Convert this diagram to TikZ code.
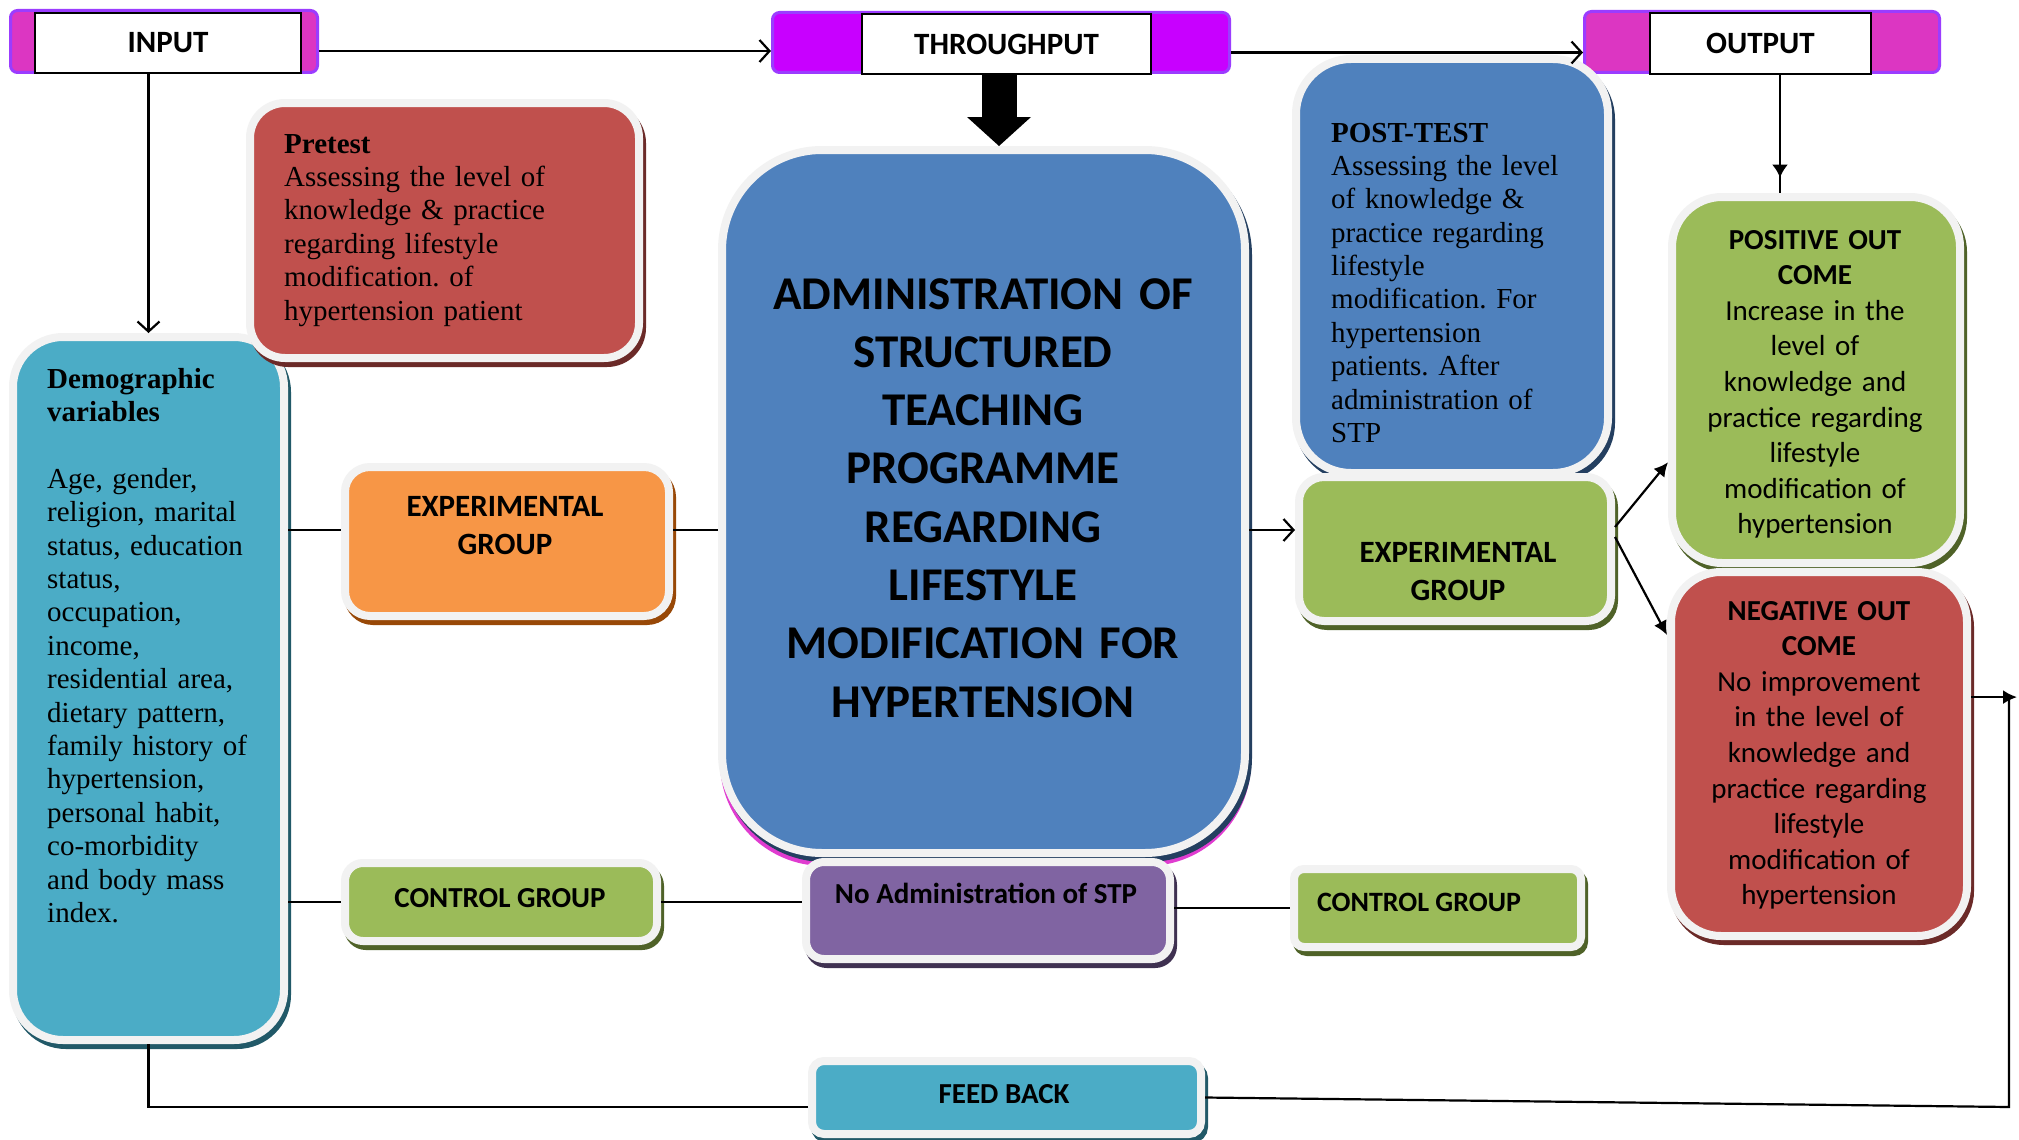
\documentclass[tikz,border=0pt]{standalone}
\usepackage{fontspec}
\setmainfont{Liberation Serif}
\newfontfamily\carlito{Carlito}
\frenchspacing
\usetikzlibrary{arrows.meta,calc,decorations.markings}
\definecolor{bord}{HTML}{F2F2F2}
\definecolor{barpurple}{HTML}{9B3CFF}
\definecolor{barmag}{HTML}{DC36C2}
\definecolor{barviolet}{HTML}{C800FF}
\definecolor{cred}{HTML}{C0504D}
\definecolor{credS}{HTML}{6B2A28}
\definecolor{cteal}{HTML}{4BACC6}
\definecolor{ctealS}{HTML}{215968}
\definecolor{corange}{HTML}{F79646}
\definecolor{corangeS}{HTML}{984807}
\definecolor{cblue}{HTML}{4F81BD}
\definecolor{cblueS}{HTML}{243F60}
\definecolor{cgreen}{HTML}{9BBB59}
\definecolor{cgreenS}{HTML}{4F6228}
\definecolor{cpurple}{HTML}{8064A2}
\definecolor{cpurpleS}{HTML}{3F3151}
\definecolor{cmagS}{HTML}{E03CD0}
\tikzset{
  cbox/.style n args={3}{rectangle, rounded corners=#3, fill=#1, draw=bord, line width=8pt, inner sep=0pt,
     preaction={fill=#2, draw=#2, line width=8pt, transform canvas={xshift=3pt,yshift=-5pt}}},
  bar/.style={rectangle, rounded corners=7pt, draw=barpurple, line width=3pt, inner sep=0pt},
  wbox/.style={rectangle, fill=white, draw=black, line width=1.5pt, inner sep=0pt,
     font=\carlito\bfseries\fontsize{31pt}{38pt}\selectfont},
  conn/.style={draw=black, line width=2.2pt},
  barb/.style={conn, -{Straight Barb[length=10pt,width=22pt]}},
  stip/.style={conn, -{Latex[length=14pt,width=14pt]}},
  blockarrow/.style={draw=black, line width=35pt, -{Triangle[length=29pt,width=64pt,line width=0pt]}},
  ser/.style={font=\fontsize{29pt}{33.4pt}\selectfont, inner sep=0pt, align=left},
  cal/.style={font=\carlito\fontsize{29pt}{35.6pt}\selectfont, inner sep=0pt, align=center},
  lab/.style={font=\carlito\bfseries\fontsize{31pt}{38.3pt}\selectfont, inner sep=0pt, align=center},
  labs/.style={font=\carlito\bfseries\fontsize{29pt}{35pt}\selectfont, inner sep=0pt},
}
\begin{document}
\begin{tikzpicture}[x=1pt,y=-1pt]
\path[use as bounding box, fill=white] (0,0) rectangle (2019,1140);

% header bars
\node[bar, fill=barmag, minimum width=307pt, minimum height=62pt] (inbar) at (164,41.5) {};
\node[wbox, minimum width=266pt, minimum height=60pt] (inbox) at (168,43) {INPUT};
\node[bar, fill=barviolet, minimum width=457pt, minimum height=60pt] (thrbar) at (1001,42.5) {};
\node[wbox, minimum width=289pt, minimum height=60pt] (thrbox) at (1006.5,44) {THROUGHPUT};
\node[bar, fill=barmag, minimum width=355pt, minimum height=61pt] (outbar) at (1762,42) {};
\node[wbox, minimum width=221pt, minimum height=61pt] (outbox) at (1760.5,43.5) {OUTPUT};

% boxes
\node[cbox={cteal}{ctealS}{50pt}, minimum width=271pt, minimum height=703pt] (demo) at (148.5,688.5) {};
\node[cbox={cred}{credS}{35pt}, minimum width=389pt, minimum height=255pt] (pretest) at (444.5,230.5) {};
\node[cbox={corange}{corangeS}{25pt}, minimum width=324pt, minimum height=149pt] (oexp) at (507,541.5) {};
\node[cbox={cgreen}{cgreenS}{18pt}, minimum width=312pt, minimum height=78pt] (lctrl) at (501,902) {};
\node[preaction={fill=cmagS, draw=cmagS, line width=8pt, transform canvas={xshift=2pt,yshift=-9pt}},
      cbox={cblue}{cblueS}{100pt}, minimum width=523pt, minimum height=703pt] (admin) at (983.5,501.5) {};
\node[cbox={cpurple}{cpurpleS}{18pt}, minimum width=364pt, minimum height=97pt] (purple) at (988,910.5) {};
\node[cbox={cgreen}{cgreenS}{10pt}, minimum width=287pt, minimum height=78pt] (rctrl) at (1437.5,908) {};
\node[cbox={cteal}{ctealS}{12pt}, minimum width=389pt, minimum height=73pt] (feed) at (1006.5,1097.5) {};
\node[cbox={cblue}{cblueS}{55pt}, minimum width=312pt, minimum height=414pt] (post) at (1452,266) {};
\node[cbox={cgreen}{cgreenS}{25pt}, minimum width=312pt, minimum height=144pt] (rexp) at (1455,549) {};
\node[cbox={cgreen}{cgreenS}{50pt}, minimum width=288pt, minimum height=366pt] (pos) at (1816,380) {};
\node[cbox={cred}{credS}{50pt}, minimum width=296pt, minimum height=364pt] (neg) at (1819,754) {};

% texts
\node[ser, anchor=base west, text width=340pt] (pretestT) at (284,153)
  {\textbf{Pretest}\\Assessing the level of\\knowledge \& practice\\regarding lifestyle\\modification. of\\hypertension patient};
\node[ser, anchor=base west, text width=234pt] (demoT) at (47,388)
  {\textbf{Demographic}\\\textbf{variables}\\[33.4pt]Age, gender,\\religion, marital\\status, education\\status,\\occupation,\\income,\\residential area,\\dietary pattern,\\family history of\\hypertension,\\personal habit,\\co-morbidity\\and body mass\\index.};
\node[lab, anchor=base, text width=300pt] (oexpT) at (505,516) {EXPERIMENTAL\\GROUP};
\node[labs, anchor=base] (lctrlT) at (500,907) {CONTROL GROUP};
\node[font=\carlito\bfseries\fontsize{47pt}{58.3pt}\selectfont, inner sep=0pt, align=center, text width=510pt, anchor=base] (adminT) at (983,309)
  {ADMINISTRATION OF\\STRUCTURED\\TEACHING\\PROGRAMME\\REGARDING\\LIFESTYLE\\MODIFICATION FOR\\HYPERTENSION};
\node[labs, anchor=base] (purpleT) at (986,903) {No Administration of STP};
\node[labs, font=\carlito\bfseries\fontsize{28pt}{34pt}\selectfont, anchor=base] (rctrlT) at (1419,911) {CONTROL GROUP};
\node[labs, anchor=base] (feedT) at (1004,1103) {FEED BACK};
\node[ser, anchor=base west, text width=265pt] (postT) at (1331,142)
  {\textbf{POST-TEST}\\Assessing the level\\of knowledge \&\\practice regarding\\lifestyle\\modification. For\\hypertension\\patients. After\\administration of\\STP};
\node[lab, anchor=base, text width=300pt] (rexpT) at (1458,562) {EXPERIMENTAL\\GROUP};
\node[cal, anchor=base, text width=280pt] (posT) at (1815,249)
  {\textbf{POSITIVE OUT}\\\textbf{COME}\\Increase in the\\level of\\knowledge and\\practice regarding\\lifestyle\\modification of\\hypertension};
\node[cal, anchor=base, text width=285pt] (negT) at (1819,620)
  {\textbf{NEGATIVE OUT}\\\textbf{COME}\\No improvement\\in the level of\\knowledge and\\practice regarding\\lifestyle\\modification of\\hypertension};

% connectors
\coordinate (l1) at ([yshift=-9.5pt]inbar.east);
\draw[barb] (l1) -- (l1 -| thrbar.west);
\coordinate (l2) at ([yshift=-10pt]thrbar.east);
\draw[barb] (l2) -- (l2 -| outbar.west);
\draw[barb] (inbox.south -| demo.north) -- (demo.north);
\coordinate (ba) at ([xshift=-7.5pt]thrbox.south);
\draw[blockarrow] (ba) -- (ba |- admin.north);
\coordinate (oa) at ([xshift=19.5pt]outbox.south);
\draw[conn, decoration={markings, mark=at position 0.87 with {\arrow{Latex[length=13pt,width=16pt]}}}, postaction={decorate}] (oa) -- (oa |- pos.north);

\coordinate (e1) at ([yshift=11.5pt]oexp.west);
\draw[conn] (demo.east |- e1) -- (e1);
\coordinate (e2) at ([yshift=11.5pt]oexp.east);
\draw[conn] (e2) -- (e2 -| admin.west);
\draw[conn] (demo.east |- lctrl.west) -- (lctrl.west);
\draw[conn] (lctrl.east) -- (lctrl.east -| purple.west);
\draw[conn] (purple.east |- rctrl.west) -- (rctrl.west);
\coordinate (r1) at ([yshift=19pt]rexp.west);
\draw[barb] (r1 -| admin.east) -- (r1);
\draw[stip] ([yshift=22pt]rexp.east) -- ($(pos.south west)!0.28!(pos.north west)$);
\draw[stip] ([yshift=12pt]rexp.east) -- ($(neg.north west)!0.18!(neg.south west)$);

\coordinate (nr) at ($(neg.north east)!0.347!(neg.south east)$);
\coordinate (fbE) at (2017,0);
\draw[stip] (nr) -- (nr -| fbE);
\coordinate (fbB) at (2009,1107);
\draw[conn] (feed.east) -- (fbB) -- (fbB |- nr);
\coordinate (f1) at ([yshift=-9.5pt]feed.west);
\draw[conn] (f1) -- (f1 -| demo.south) -- (demo.south);
\end{tikzpicture}
\end{document}
